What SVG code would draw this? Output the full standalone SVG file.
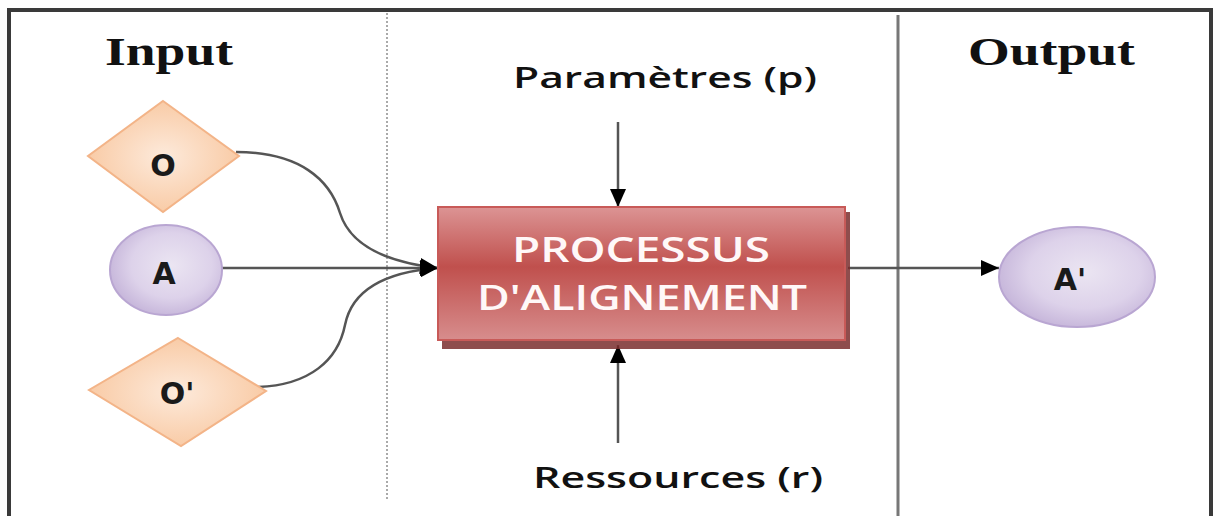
<svg xmlns="http://www.w3.org/2000/svg" width="1216" height="516" viewBox="0 0 1216 516">
<style>
.title{font-family:"Liberation Serif","Times New Roman",serif;font-weight:bold;font-size:40px;fill:#111}
.lbl{font-family:"Open Sans","DejaVu Sans",sans-serif;font-weight:600;font-size:28px;fill:#111}
.nlbl{font-family:"DejaVu Sans","Liberation Sans",sans-serif;font-size:30px;font-weight:bold;fill:#1a1a1a}
.ptxt{font-family:"Open Sans","DejaVu Sans",sans-serif;font-weight:600;font-size:34px;fill:#fff8f8}
.con{fill:none;stroke:#555;stroke-width:2.5}
.dia{stroke:#f3b488;stroke-width:2}
.ell{stroke:#b9a6d2;stroke-width:2}
</style>
<defs>
<radialGradient id="gPeach" cx="0.5" cy="0.5" r="0.6">
<stop offset="0" stop-color="#fdeadb"/>
<stop offset="1" stop-color="#f8c59c"/>
</radialGradient>
<radialGradient id="gPurple" cx="0.55" cy="0.45" r="0.6">
<stop offset="0" stop-color="#ebe5f2"/>
<stop offset="0.6" stop-color="#ddd2ea"/>
<stop offset="1" stop-color="#c3b2d8"/>
</radialGradient>
<linearGradient id="gRed" x1="0" y1="0" x2="0" y2="1">
<stop offset="0" stop-color="#dc9494"/>
<stop offset="0.45" stop-color="#c0504d"/>
<stop offset="1" stop-color="#d78d8d"/>
</linearGradient>
<marker id="arr" viewBox="0 0 18 16" refX="18" refY="8" markerWidth="18" markerHeight="16" markerUnits="userSpaceOnUse" orient="auto">
<path d="M0,0 L18,8 L0,16 z" fill="#000"/>
</marker>
</defs>
<rect width="1216" height="516" fill="#fff"/>
<g id="frame">
<path d="M9,516 V10 H1211 V516" fill="none" stroke="#3a3a3a" stroke-width="4"/>
<line x1="387" y1="13" x2="387" y2="500" stroke="#aaa" stroke-width="2" stroke-dasharray="2,2"/>
<line x1="898" y1="15" x2="898" y2="516" stroke="#777" stroke-width="3"/>
</g>
<g id="titles">
<text class="title" x="105" y="65" textLength="128" lengthAdjust="spacingAndGlyphs">Input</text>
<text class="title" x="968" y="65" textLength="167" lengthAdjust="spacingAndGlyphs">Output</text>
</g>
<g id="connectors">
<path class="con" d="M236,152 C300,152 330,180 340,213 C350,245 385,262 438,268" marker-end="url(#arr)"/>
<line class="con" x1="222" y1="268" x2="438" y2="268" marker-end="url(#arr)"/>
<path class="con" d="M258,387 C310,385 338,360 345,325 C352,290 385,272 438,268" marker-end="url(#arr)"/>
<line class="con" x1="618" y1="122" x2="618" y2="207" stroke="#888" marker-end="url(#arr)"/>
<line class="con" x1="618" y1="443" x2="618" y2="345" stroke="#888" marker-end="url(#arr)"/>
<line class="con" x1="848" y1="268" x2="999" y2="268" stroke="#777" marker-end="url(#arr)"/>
</g>
<g id="node-O">
<polygon class="dia" points="163,101 239,156 163,212 88,156" fill="url(#gPeach)"/>
<text class="nlbl" x="163" y="176" text-anchor="middle">O</text>
</g>
<g id="node-A">
<ellipse class="ell" cx="166" cy="270" rx="56" ry="45" fill="url(#gPurple)"/>
<text class="nlbl" x="164" y="284" text-anchor="middle">A</text>
</g>
<g id="node-O2">
<polygon class="dia" points="178,338 266,391 181,446 89,390" fill="url(#gPeach)"/>
<text class="nlbl" x="177" y="404" text-anchor="middle">O'</text>
</g>
<g id="node-process">
<rect x="442" y="212" width="408" height="137" fill="#7a2e2e" opacity="0.85"/>
<rect x="438" y="207" width="407" height="133" fill="url(#gRed)" stroke="#c85a58" stroke-width="2"/>
<text class="ptxt" x="641" y="262" text-anchor="middle" textLength="258" lengthAdjust="spacingAndGlyphs">PROCESSUS</text>
<text class="ptxt" x="642" y="310" text-anchor="middle" textLength="330" lengthAdjust="spacingAndGlyphs">D'ALIGNEMENT</text>
</g>
<g id="label-params">
<text class="lbl" x="513" y="88" textLength="304" lengthAdjust="spacingAndGlyphs">Paramètres (p)</text>
</g>
<g id="label-res">
<text class="lbl" x="533" y="488" textLength="290" lengthAdjust="spacingAndGlyphs">Ressources (r)</text>
</g>
<g id="node-A2">
<ellipse class="ell" cx="1077" cy="277" rx="78" ry="50" fill="url(#gPurple)"/>
<text class="nlbl" x="1070" y="290" text-anchor="middle">A'</text>
</g>
</svg>
